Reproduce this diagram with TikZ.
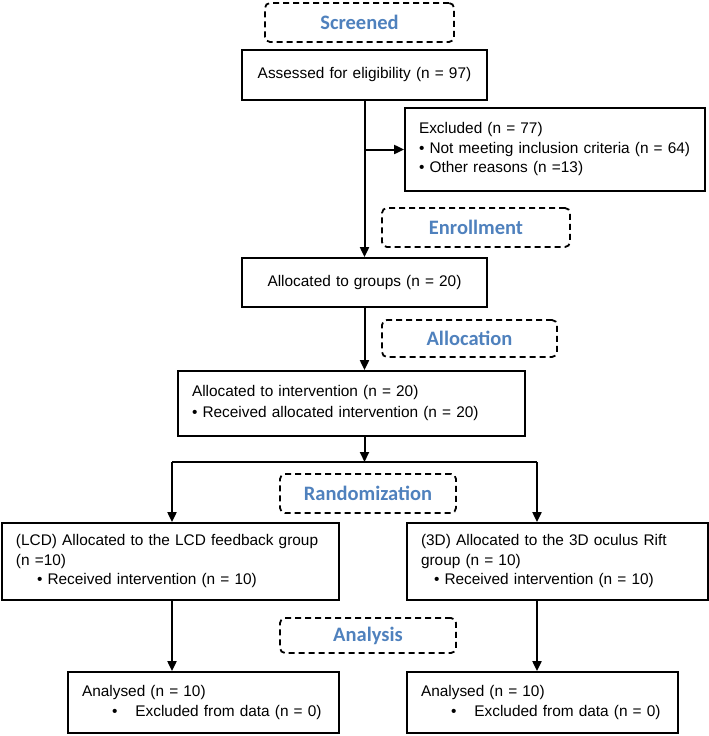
\documentclass[tikz,border=0pt]{standalone}
\usepackage{fontspec}
\setmainfont{Liberation Sans}
\newfontfamily\hdrfont{Carlito}
\usetikzlibrary{arrows.meta}
\definecolor{hdrblue}{RGB}{79,129,189}

\begin{document}
\begin{tikzpicture}[x=1pt,y=-1pt,
    box/.style={draw,line width=1.8pt,fill=white,inner xsep=14pt,inner ysep=0pt,
        align=left,font=\fontsize{15.4}{19.5}\selectfont},
    stage/.style={draw,line width=1.8pt,dash pattern=on 6pt off 4pt,rounded corners=5pt,
        inner sep=0pt,text=hdrblue,font=\hdrfont\bfseries\fontsize{20.5}{24}\selectfont},
    arr/.style={-{Triangle[length=10pt,width=9pt]},line width=2pt},
    line/.style={line width=2pt}]

\useasboundingbox (0,0) rectangle (709,736);

\node [stage,minimum width=189pt,minimum height=39pt] (screened) at (359.5,22.5) {Screened};
\node [stage,minimum width=188pt,minimum height=39pt] (enrol) at (476,227.5) {Enrollment};
\node [stage,minimum width=175pt,minimum height=37pt] (alloc) at (469.5,338.5) {Allocation};
\node [stage,minimum width=176pt,minimum height=39pt] (random) at (368,493.5) {Randomization};
\node [stage,minimum width=176pt,minimum height=35pt] (analysis) at (368,635.5) {Analysis};

\node [box,align=center,text width=217pt,minimum height=50pt] (assess) at (364.5,75)
    {Assessed for eligibility (n = 97)};
\node [box,text width=272pt,minimum height=83pt] (excl) at (555,149.5)
    {Excluded (n = 77)\\
     \textbullet\ Not meeting inclusion criteria (n = 64)\\
     \textbullet\ Other reasons (n =13)};
\node [box,align=center,text width=217pt,minimum height=49pt] (groups) at (364.5,282.5)
    {Allocated to groups (n = 20)};
\node [box,text width=319pt,minimum height=65pt,font=\fontsize{15.4}{21}\selectfont] (interv) at (351.5,403.5)
    {Allocated to intervention (n = 20)\\
     \textbullet\ Received allocated intervention (n = 20)};
\node [box,text width=309pt,minimum height=77pt] (lcd) at (170.5,561.5)
    {(LCD) Allocated to the LCD feedback group\\
     (n =10)\\
     \hspace*{21pt}\textbullet\ Received intervention (n = 10)};
\node [box,text width=273pt,minimum height=77pt] (rift) at (557.5,561.5)
    {(3D) Allocated to the 3D oculus Rift\\
     group (n = 10)\\
     \hspace*{13pt}\textbullet\ Received intervention (n = 10)};
\node [box,text width=243pt,minimum height=61pt] (analL) at (203.5,702.5)
    {Analysed (n = 10)\\
     \hspace*{30pt}\textbullet\hspace{18pt}Excluded from data (n = 0)};
\node [box,text width=243pt,minimum height=61pt] (analR) at (542.5,702.5)
    {Analysed (n = 10)\\
     \hspace*{30pt}\textbullet\hspace{18pt}Excluded from data (n = 0)};

\coordinate (split) at (364.5,462);
\coordinate (splitL) at (172,462);
\coordinate (splitR) at (537,462);

\draw [arr] (assess) -- (groups);
\draw [arr] (assess.south |- excl.west) -- (excl.west);
\draw [arr] (groups.south) -- (groups.south |- interv.north);
\draw [arr] (groups.south |- interv.south) -- (split);
\draw [line] (splitL) -- (splitR);
\draw [arr] (splitL) -- (splitL |- lcd.north);
\draw [arr] (splitR) -- (splitR |- rift.north);
\draw [arr] (splitL |- lcd.south) -- (splitL |- analL.north);
\draw [arr] (splitR |- rift.south) -- (splitR |- analR.north);

\end{tikzpicture}
\end{document}
